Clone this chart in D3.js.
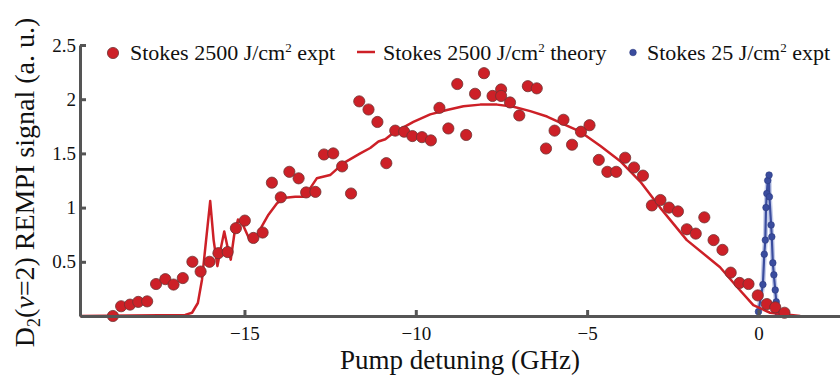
<!DOCTYPE html>
<html>
<head>
<meta charset="utf-8">
<script src="https://cdn.jsdelivr.net/npm/d3@7"></script>
<style>
  body { margin: 0; background: white; }
  svg text { font-family: "Liberation Serif", "Times New Roman", serif !important; fill: #111; }
</style>
</head>
<body>
<div id="container"></div>
<script>
// Stokes 2500 J/cm2 experiment (GHz, a.u.)
const exptX = [-18.84, -18.60, -18.34, -18.10, -17.84, -17.58, -17.31, -17.07, -16.80, -16.52,
  -16.28, -16.02, -15.76, -15.49, -15.25, -14.99, -14.74, -14.47, -14.20, -13.94,
  -13.69, -13.42, -13.20, -12.93, -12.68, -12.41, -12.15, -11.89, -11.65, -11.38,
  -11.12, -10.86, -10.60, -10.34, -10.10, -9.82, -9.56, -9.31, -9.05, -8.79,
  -8.53, -8.27, -8.01, -7.76, -7.51, -7.51, -7.25, -6.98, -6.73, -6.47,
  -6.20, -5.95, -5.69, -5.44, -5.18, -4.93, -4.66, -4.41, -4.15, -3.89,
  -3.63, -3.37, -3.11, -2.86, -2.61, -2.35, -2.09, -1.83, -1.58, -1.31,
  -1.05, -0.81, -0.55, -0.29, -0.02, 0.245, 0.49, 0.76]
const exptY = [0.00, 0.09, 0.105, 0.13, 0.135, 0.295, 0.34, 0.29, 0.35, 0.50,
  0.41, 0.50, 0.58, 0.59, 0.81, 0.88, 0.72, 0.77, 1.23, 1.095,
  1.33, 1.27, 1.14, 1.145, 1.49, 1.50, 1.38, 1.13, 1.98, 1.905,
  1.79, 1.41, 1.71, 1.70, 1.66, 1.65, 1.62, 1.92, 1.73, 2.14,
  1.67, 2.05, 2.24, 2.03, 2.09, 2.03, 1.97, 1.85, 2.12, 2.10,
  1.545, 1.71, 1.81, 1.58, 1.70, 1.76, 1.44, 1.33, 1.33, 1.46,
  1.37, 1.295, 1.02, 1.07, 1.00, 0.965, 0.80, 0.76, 0.91, 0.70,
  0.61, 0.40, 0.305, 0.295, 0.19, 0.11, 0.08, 0.03]

// Stokes 2500 J/cm2 theory
const theoryX = [-19.8, -16.73, -16.53, -16.36, -16.24, -16.12, -16.00, -15.90, -15.79, -15.68,
  -15.59, -15.49, -15.40, -15.29, -15.19, -15.03, -14.83, -14.69, -14.49, -14.30,
  -14.05, -13.81, -13.52, -13.28, -13.08, -12.89, -12.50, -12.11, -11.62, -11.33,
  -11.09, -10.89, -10.65, -10.07, -9.58, -9.09, -8.61, -8.12, -7.63, -7.15,
  -6.66, -6.17, -5.69, -5.20, -4.62, -4.04, -3.45, -2.87, -2.09, -1.12,
  -0.63, -0.15, 0.34, 1.22]
const theoryY = [0, 0.01, 0.03, 0.12, 0.335, 0.70, 1.06, 0.70, 0.46, 0.64,
  0.78, 0.63, 0.52, 0.77, 0.89, 0.83, 0.69, 0.70, 0.83, 0.935,
  1.04, 1.09, 1.10, 1.10, 1.18, 1.27, 1.30, 1.41, 1.50, 1.55,
  1.61, 1.63, 1.69, 1.79, 1.86, 1.90, 1.935, 1.95, 1.95, 1.93,
  1.89, 1.84, 1.77, 1.70, 1.57, 1.43, 1.24, 1.00, 0.70, 0.45,
  0.27, 0.10, 0.03, 0.00]

// Stokes 25 J/cm2 experiment
const lowX = [0.00, 0.13, 0.17, 0.20, 0.22, 0.245, 0.27, 0.31, 0.32, 0.37, 0.39, 0.42, 0.45, 0.49, 0.52, 0.57]
const lowY = [0.04, 0.29, 0.57, 0.70, 1.00, 1.13, 1.25, 1.30, 1.10, 0.84, 0.73, 0.49, 0.38, 0.24, 0.13, 0.03]

const xTicks = [-15, -10, -5, 0]
const yTicks = [0.5, 1, 1.5, 2, 2.5]
const xDomain = [-19.8, 2.38]
const yDomain = [0, 2.5]

const red = "#cd2027"
const blue = "#3a4c9e"
const axisColor = "#555"
const serif = "'Liberation Serif', 'Times New Roman', serif"

const width = 840
const height = 375
const m = { left: 80, right: 840, top: 45, bottom: 316 }

const svg = d3.create("svg")
  .attr("width", width)
  .attr("height", height)
  .attr("font-family", serif)
container.append(svg.node())

const x = d3.scaleLinear().domain(xDomain).range([m.left, m.right])
const y = d3.scaleLinear().domain(yDomain).range([m.bottom, m.top])

const zip = (xs, ys) => xs.map((v, i) => [v, ys[i]])
const line = d3.line().x(d => x(d[0])).y(d => y(d[1]))

// low fluence curve, drawn first so red sits on top
const low = zip(lowX, lowY)
svg.append("path")
  .attr("d", line(low))
  .attr("fill", "none")
  .attr("stroke", "#9fabdc")
  .attr("stroke-width", 5)
  .attr("opacity", 0.6)
svg.append("path")
  .attr("d", line(low))
  .attr("fill", "none")
  .attr("stroke", blue)
  .attr("stroke-width", 2.2)
svg.selectAll(".b")
  .data(low)
  .join("circle")
  .attr("class", "b")
  .attr("cx", d => x(d[0]))
  .attr("cy", d => y(d[1]))
  .attr("r", 3.3)
  .attr("fill", blue)
  .attr("stroke", "#2b3a80")
  .attr("stroke-width", 0.6)

// theory line
svg.append("path")
  .attr("d", line(zip(theoryX, theoryY)))
  .attr("fill", "none")
  .attr("stroke", red)
  .attr("stroke-width", 2.5)
  .attr("stroke-linejoin", "round")

// expt points
svg.selectAll(".r")
  .data(zip(exptX, exptY))
  .join("circle")
  .attr("class", "r")
  .attr("cx", d => x(d[0]))
  .attr("cy", d => y(d[1]))
  .attr("r", 5.6)
  .attr("fill", red)
  .attr("stroke", "#6e3434")
  .attr("stroke-width", 0.8)

// axes
const xAxis = svg.append("g")
  .attr("transform", `translate(0,${m.bottom})`)
  .call(d3.axisBottom(x).tickValues(xTicks).tickSizeInner(-6).tickSizeOuter(0)
    .tickFormat(d => d < 0 ? "\u2212" + Math.abs(d) : d))
const yAxis = svg.append("g")
  .attr("transform", `translate(${m.left},0)`)
  .call(d3.axisLeft(y).tickValues(yTicks).tickSizeInner(-6).tickSizeOuter(0)
    .tickFormat(d => String(d)))

;[xAxis, yAxis].forEach(g => {
  g.attr("font-family", serif)
  g.select(".domain").attr("stroke", axisColor).attr("stroke-width", 3)
  g.selectAll(".tick line").attr("stroke", axisColor).attr("stroke-width", 3)
  g.selectAll(".tick text")
    .attr("fill", "#111")
    .style("font-size", "19px")
})
xAxis.selectAll(".tick text").attr("dy", "1.1em")
yAxis.selectAll(".tick text").attr("x", -4)

// axis titles
svg.append("text")
  .attr("x", (m.left + m.right) / 2)
  .attr("y", 369)
  .attr("text-anchor", "middle")
  .style("font-size", "27px")
  .text("Pump detuning (GHz)")

const yl = svg.append("text")
  .attr("transform", `translate(34,${(m.top + m.bottom) / 2 + 2}) rotate(-90)`)
  .attr("text-anchor", "middle")
  .style("font-size", "28px")
yl.append("tspan").text("D")
yl.append("tspan").attr("dy", 6).style("font-size", "18px").text("2")
yl.append("tspan").attr("dy", -6).text("(")
yl.append("tspan").style("font-style", "italic").text("v")
yl.append("tspan").text("=2) REMPI signal (a. u.)")

// legend
const lg = svg.append("g")
const legendText = (x0, label, rest) => {
  const t = lg.append("text")
    .attr("x", x0)
    .attr("y", 60)
    .style("font-size", "22px")
  t.append("tspan").text(label)
  t.append("tspan").attr("dy", -8).style("font-size", "13px").text("2")
  t.append("tspan").attr("dy", 8).text(rest)
}
lg.append("circle").attr("cx", 113).attr("cy", 53).attr("r", 5.6)
  .attr("fill", red).attr("stroke", "#6e3434").attr("stroke-width", 0.8)
legendText(130, "Stokes 2500 J/cm", " expt")
lg.append("line").attr("x1", 357).attr("x2", 375).attr("y1", 52).attr("y2", 52)
  .attr("stroke", red).attr("stroke-width", 2.5)
legendText(383, "Stokes 2500 J/cm", " theory")
lg.append("circle").attr("cx", 633).attr("cy", 52.5).attr("r", 3.3)
  .attr("fill", blue).attr("stroke", "#2b3a80").attr("stroke-width", 0.6)
legendText(647, "Stokes 25 J/cm", " expt")
</script>
</body>
</html>
